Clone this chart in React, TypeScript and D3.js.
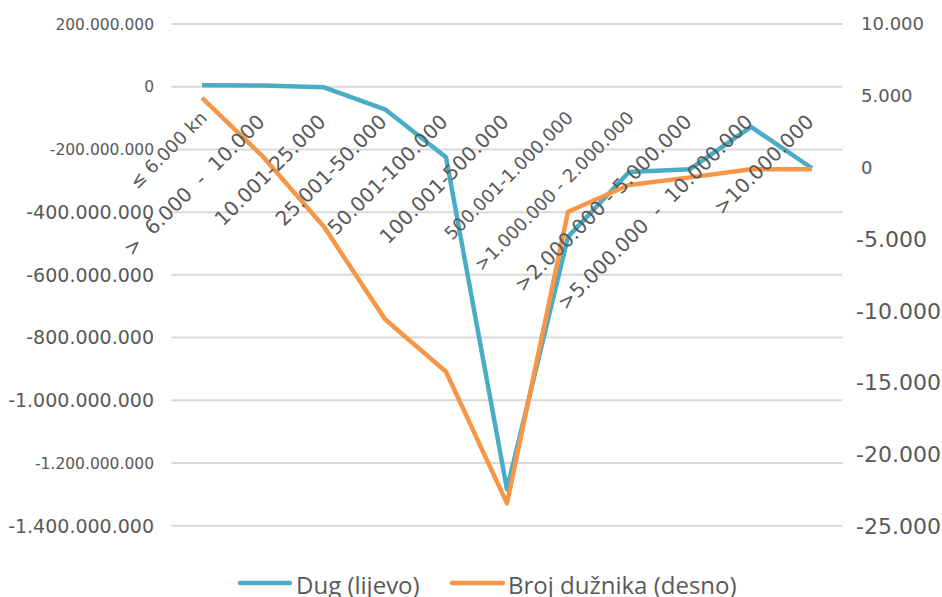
import React from "react";
import * as d3 from "d3";

const categories: string[] = [
  "≤ 6.000 kn",
  ">  6.000  -  10.000",
  "10.001-25.000",
  "25.001-50.000",
  "50.001-100.000",
  "100.001-500.000",
  "500.001-1.000.000",
  ">1.000.000 - 2.000.000",
  ">2.000.000 - 5.000.000",
  ">5.000.000  -  10.000.000",
  ">10.000.000",
];

// Dug (lijevo) in kn
const debt: number[] = [
  5e6, 4e6, -2e6, -72e6, -225e6, -1284e6, -479e6, -272e6, -263e6, -128e6, -260e6,
];

// Broj dužnika (desno)
const debtors: number[] = [
  4850, 740, -4150, -10600, -14260, -23440, -3100, -1235, -700, -140, -140,
];

const leftTicks: number[] = [200e6, 0, -200e6, -400e6, -600e6, -800e6, -1000e6, -1200e6, -1400e6];
const rightTicks: number[] = [10000, 5000, 0, -5000, -10000, -15000, -20000, -25000];

const seriesNames: string[] = ["Dug (lijevo)", "Broj dužnika (desno)"];

const BLUE = "#4BACC6";
const ORANGE = "#F79646";
const TEXT = "#595959";
const GRID = "#D9D9D9";

const fmt = d3
  .formatLocale({ decimal: ",", thousands: ".", grouping: [3], currency: ["", ""], minus: "-" })
  .format(",d");

export default function App() {
  const W = 942;
  const H = 597;
  const x0 = 171.5;
  const x1 = 842.5;
  const yTop = 24;
  const yBot = 525.7;

  const x = d3.scaleBand<string>().domain(categories).range([x0, x1]);
  const cx = (c: string) => (x(c) as number) + x.bandwidth() / 2;
  const yL = d3.scaleLinear().domain([-1400e6, 200e6]).range([yBot, yTop]);
  const yR = d3.scaleLinear().domain([-25000, 10000]).range([yBot, yTop]);

  const lineL = d3
    .line<number>()
    .x((_, i) => cx(categories[i]))
    .y((d) => yL(d));
  const lineR = d3
    .line<number>()
    .x((_, i) => cx(categories[i]))
    .y((d) => yR(d));

  const smallLeft = new Set([200e6, 0, -200e6, -1200e6]);
  const smallRight = new Set([10000, 5000, 0]);
  const smallCat = new Set([0, 6, 7]);

  return (
    <svg
      width={W}
      height={H}
      style={{ position: "absolute", left: 0, top: 0, background: "#fff" }}
    >
      {leftTicks.map((t) => (
        <line key={"g" + t} x1={x0} x2={x1} y1={yL(t)} y2={yL(t)} stroke={GRID} strokeWidth={2} />
      ))}
      {leftTicks.map((t) => {
        const small = smallLeft.has(t);
        return (
          <text
            key={"l" + t}
            x={154}
            y={yL(t)}
            dy="0.36em"
            textAnchor="end"
            fill={TEXT}
            fontFamily="DejaVu Sans"
            fontSize={small ? 15.5 : 19}
          >
            {fmt(t)}
          </text>
        );
      })}
      {rightTicks.map((t) => {
        const small = smallRight.has(t);
        return (
          <text
            key={"r" + t}
            x={small ? 861 : 856}
            y={yR(t)}
            dy="0.36em"
            textAnchor="start"
            fill={TEXT}
            fontFamily="DejaVu Sans"
            fontSize={small ? 18 : 22}
          >
            {fmt(t)}
          </text>
        );
      })}
      <path d={lineL(debt) || ""} fill="none" stroke={BLUE} strokeWidth={4.5} strokeLinejoin="round" />
      <path d={lineR(debtors) || ""} fill="none" stroke={ORANGE} strokeWidth={4.5} strokeLinejoin="round" />
      {categories.map((c, i) => {
        const small = smallCat.has(i);
        const px = cx(c) + (small ? 6 : 3);
        const py = small ? 119 : 123;
        return (
          <text
            key={"c" + i}
            transform={`translate(${px},${py}) rotate(-45)`}
            textAnchor="end"
            fill={TEXT}
            fontFamily="DejaVu Sans"
            fontSize={small ? 18 : 20}
            style={{ whiteSpace: "pre" }}
          >
            {c}
          </text>
        );
      })}
      <g>
        <line x1={240} x2={290} y1={583} y2={583} stroke={BLUE} strokeWidth={4.5} strokeLinecap="round" />
        <text x={296} y={594} fill={TEXT} fontFamily="Open Sans" fontSize={24}>
          {seriesNames[0]}
        </text>
        <line x1={452} x2={503} y1={583} y2={583} stroke={ORANGE} strokeWidth={4.5} strokeLinecap="round" />
        <text x={508} y={594} fill={TEXT} fontFamily="Open Sans" fontSize={24}>
          {seriesNames[1]}
        </text>
      </g>
    </svg>
  );
}
